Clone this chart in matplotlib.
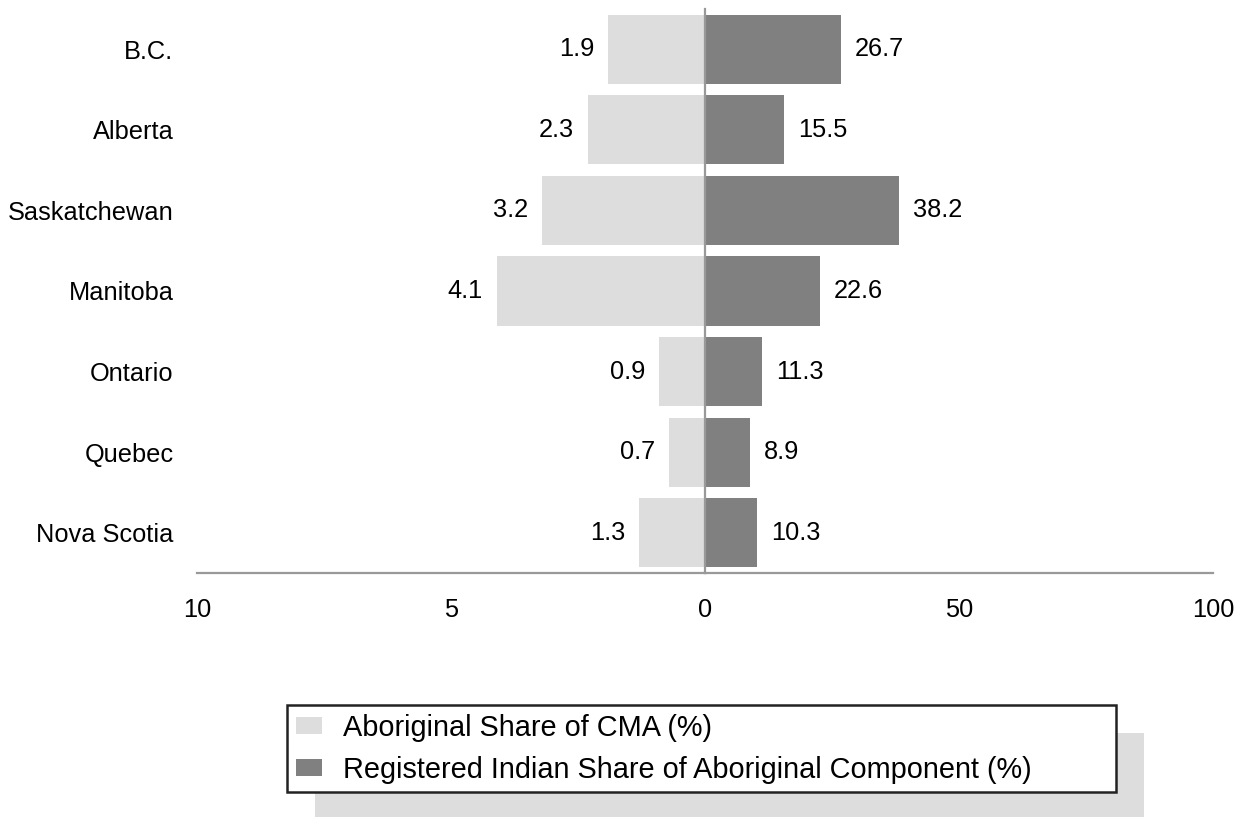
import matplotlib
matplotlib.use("Agg")
import matplotlib.pyplot as plt
from matplotlib.patches import Rectangle

plt.rcParams['font.family'] = ['Liberation Sans', 'DejaVu Sans']

provinces = ["B.C.", "Alberta", "Saskatchewan", "Manitoba", "Ontario", "Quebec", "Nova Scotia"]
aboriginal_share = [1.9, 2.3, 3.2, 4.1, 0.9, 0.7, 1.3]
registered_share = [26.7, 15.5, 38.2, 22.6, 11.3, 8.9, 10.3]
left_ticks = [10, 5, 0]
right_ticks = [50, 100]
legend_labels = ["Aboriginal Share of CMA (%)", "Registered Indian Share of Aboriginal Component (%)"]

LIGHT = "#dddddd"
DARK = "#808080"
LINE = "#999999"
FS = 18.3

W, H = 1247, 817
fig = plt.figure(figsize=(W / 100, H / 100), dpi=100)

ax_top = 9
ax_bot = 573
x0, xm, x1 = 197, 705, 1213
axL = fig.add_axes([x0 / W, 1 - ax_bot / H, (xm - x0) / W, (ax_bot - ax_top) / H])
axR = fig.add_axes([xm / W, 1 - ax_bot / H, (x1 - xm) / W, (ax_bot - ax_top) / H])

ypos = list(range(len(provinces)))
bh = 0.857

bL = axL.barh(ypos, aboriginal_share, height=bh, color=LIGHT, zorder=2)
bR = axR.barh(ypos, registered_share, height=bh, color=DARK, zorder=2)

axL.set_xlim(10, 0)
axR.set_xlim(0, 100)
for a in (axL, axR):
    a.set_ylim(len(provinces) - 0.5, -0.5)
    for s in a.spines.values():
        s.set_visible(False)
    a.spines['bottom'].set_visible(True)
    a.spines['bottom'].set_color(LINE)
    a.spines['bottom'].set_linewidth(1.6)
    a.tick_params(axis='x', length=0, pad=18, labelsize=FS)
    a.tick_params(axis='y', length=0)
    a.patch.set_alpha(0)

axR.spines['left'].set_visible(True)
axR.spines['left'].set_color(LINE)
axR.spines['left'].set_linewidth(1.6)
axR.spines['left'].set_zorder(3)

axL.set_yticks(ypos)
axL.set_yticklabels(provinces, fontsize=FS, va='center_baseline')
axL.tick_params(axis='y', pad=17)
axR.set_yticks([])

axL.set_xticks(left_ticks)
axL.set_xticklabels([str(t) for t in left_ticks])
axR.set_xticks(right_ticks)
axR.set_xticklabels([str(t) for t in right_ticks])

axL.bar_label(bL, labels=[f"{v:.1f}" for v in aboriginal_share], padding=10, fontsize=FS)
axR.bar_label(bR, labels=[f"{v:.1f}" for v in registered_share], padding=10, fontsize=FS)

# Legend
lx0, ly0, lx1, ly1 = 287, 705, 1116, 789
leg = fig.legend([bL, bR], legend_labels, loc='upper left',
                 bbox_to_anchor=(lx0 / W, 1 - ly1 / H, (lx1 - lx0) / W, (ly1 - ly0) / H),
                 mode='expand', fontsize=20.8, handlelength=0.9, handleheight=0.56,
                 handletextpad=0.73, borderpad=0.3, labelspacing=0.48, borderaxespad=0,
                 fancybox=False, framealpha=1, edgecolor='#222222')
leg.get_frame().set_linewidth(1.8)
leg.set_zorder(5)

shadow = Rectangle(((lx0 + 28) / W, 1 - (ly1 + 28) / H), (lx1 - lx0) / W, (ly1 - ly0) / H,
                   transform=fig.transFigure, facecolor=LIGHT, edgecolor='none', zorder=1)
fig.patches.append(shadow)

fig.savefig("out.png", dpi=100)
